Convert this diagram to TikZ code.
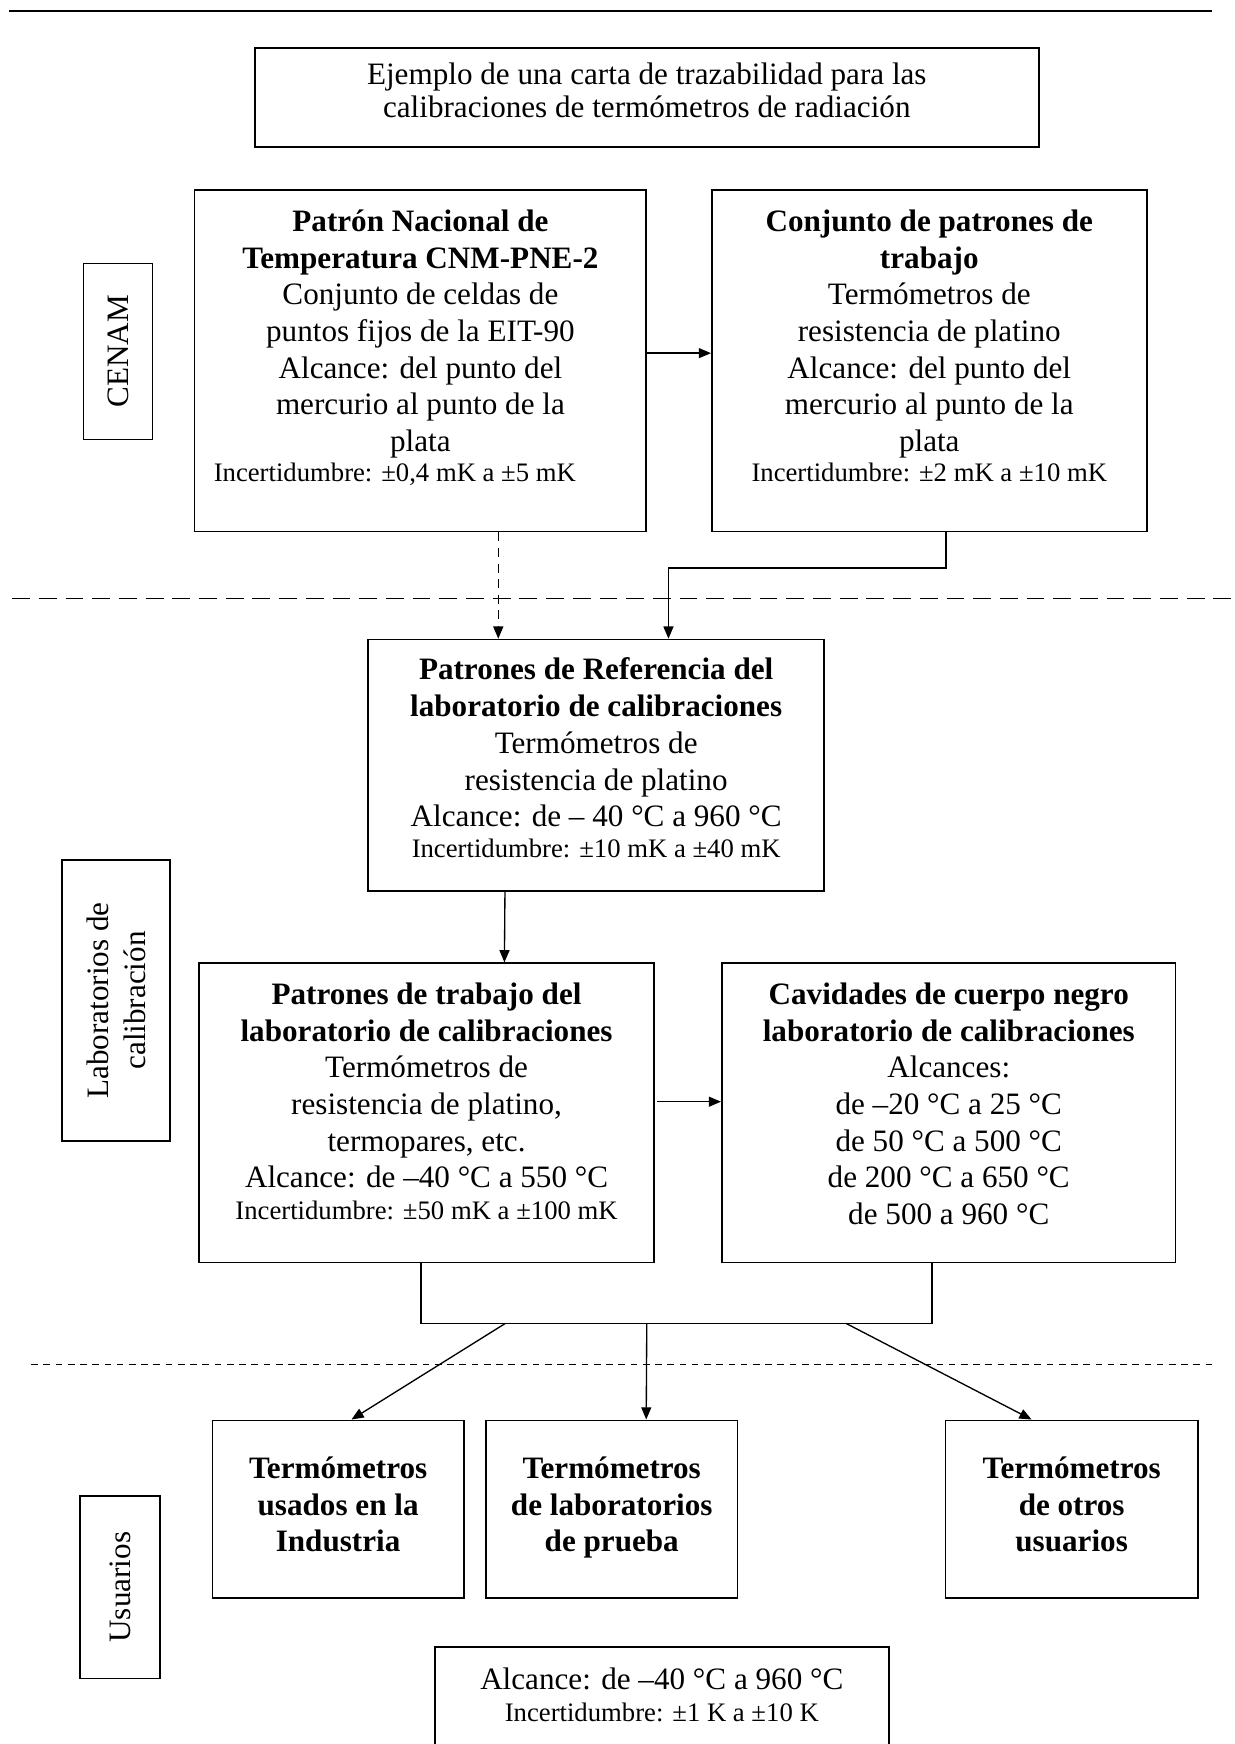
\documentclass[tikz,border=0pt]{standalone}
\usepackage{fontspec}
\setmainfont{Liberation Serif}
\usetikzlibrary{arrows.meta,positioning,fit,calc}

\newcommand{\cuerpo}{\fontsize{14}{16.5}\selectfont}
\newcommand{\chica}{\fontsize{12}{15}\selectfont}

\tikzset{
  caja/.style={draw, line width=0.75pt, inner sep=0pt},
  texto/.style={align=center, inner sep=0pt, font=\cuerpo},
  etiqueta/.style={rotate=90, align=center, inner sep=0pt, font=\cuerpo},
  flecha/.style={line width=0.6pt, -{Triangle[length=5.5pt,width=4.5pt]}},
  discont/.style={dash pattern=on 4pt off 3pt},
  division/.style={line width=0.6pt, dash pattern=on 8pt off 4pt},
  divcorta/.style={line width=0.6pt, dash pattern=on 3pt off 2.5pt},
}

\begin{document}
\begin{tikzpicture}[x=0.5pt, y=-0.5pt]
\useasboundingbox (0,0) rectangle (1110,1568);

\draw[line width=1.2pt] (8,10) -- (1090,10);

% titulo
\node[caja, fit={(229,43) (934,132)}] (titulo) {};
\node[texto, font=\fontsize{14}{15}\selectfont, below=7pt of titulo.north] (ttitulo)
  {Ejemplo de una carta de trazabilidad para las\\calibraciones de termómetros de radiación};

% nivel CENAM
\node[caja, fit={(75,237) (137,395)}] (cenam) {};
\node[etiqueta] (tcenam) at (cenam) {CENAM};

\node[caja, fit={(175,171) (581,478)}] (pnac) {};
\node[texto, below=9pt of pnac.north] (tpnac)
  {\textbf{Patrón Nacional de}\\\textbf{Temperatura CNM-PNE-2}\\Conjunto de celdas de\\puntos fijos de la EIT-90\\Alcance: del punto del\\mercurio al punto de la\\plata\\[-3pt]{\chica Incertidumbre: ±0,4 mK a ±5 mK}\hspace*{23pt}};

\node[caja, fit={(640,171) (1031,478)}] (ctrab) {};
\node[texto, below=9pt of ctrab.north] (tctrab)
  {\textbf{Conjunto de patrones de}\\\textbf{trabajo}\\Termómetros de\\resistencia de platino\\Alcance: del punto del\\mercurio al punto de la\\plata\\[-3pt]{\chica Incertidumbre: ±2 mK a ±10 mK}};

\draw[division] (11,538) -- (1110,538);

% laboratorios
\node[caja, fit={(56,773) (153,1026)}] (labs) {};
\node[etiqueta] (tlabs) at (labs) {Laboratorios de\\calibración};

\node[caja, fit={(331,575) (741,801)}] (pref) {};
\node[texto, below=8.5pt of pref.north] (tpref)
  {\textbf{Patrones de Referencia del}\\\textbf{laboratorio de calibraciones}\\Termómetros de\\resistencia de platino\\Alcance: de – 40 °C a 960 °C\\[-2.5pt]{\chica Incertidumbre: ±10 mK a ±40 mK}};

\node[caja, fit={(179,866) (588,1135)}] (ptrab) {};
\node[texto, below=9pt of ptrab.north] (tptrab)
  {\textbf{Patrones de trabajo del}\\\textbf{laboratorio de calibraciones}\\Termómetros de\\resistencia de platino,\\termopares, etc.\\Alcance: de –40 °C a 550 °C\\[-2.5pt]{\chica Incertidumbre: ±50 mK a ±100 mK}};

\node[caja, fit={(649,866) (1057,1135)}] (cav) {};
\node[texto, below=9pt of cav.north] (tcav)
  {\textbf{Cavidades de cuerpo negro}\\\textbf{laboratorio de calibraciones}\\Alcances:\\de –20 °C a 25 °C\\de 50 °C a 500 °C\\de 200 °C a 650 °C\\de 500 a 960 °C};

\draw[divcorta] (28,1227) -- (1093,1227);

% usuarios
\node[caja, fit={(72,1345) (144,1509)}] (usu) {};
\node[etiqueta] (tusu) at (usu) {Usuarios};

\node[caja, fit={(191,1277) (417,1437)}] (tind) {};
\node[texto, below=16.5pt of tind.north] (ttind)
  {\textbf{Termómetros}\\\textbf{usados en la}\\\textbf{Industria}};

\node[caja, fit={(437,1277) (663,1437)}] (tlab) {};
\node[texto, below=16.5pt of tlab.north] (ttlab)
  {\textbf{Termómetros}\\\textbf{de laboratorios}\\\textbf{de prueba}};

\node[caja, fit={(850,1277) (1077,1437)}] (totr) {};
\node[texto, below=16.5pt of totr.north] (ttotr)
  {\textbf{Termómetros}\\\textbf{de otros}\\\textbf{usuarios}};

\node[caja, fit={(391,1481) (799,1600)}] (alc) {};
\node[texto, below=9.5pt of alc.north] (talc)
  {Alcance: de –40 °C a 960 °C\\[-2pt]{\chica Incertidumbre: ±1 K a ±10 K}};

% conexiones
\draw[flecha] ($(pnac.east)+(0,-7)$) -- ($(pnac.east -| ctrab.west)+(0,-7)$);
\draw[flecha, discont] ($(pnac.south)+(70,0)$) -- ($(pref.north)+(-88,0)$);
\draw[flecha] ($(ctrab.south)+(15,0)$) -- ++(0,32) -| ($(pref.north)+(65,0)$);
\draw[flecha] ($(pref.south)+(-82,0)$) -- ($(ptrab.north)+(70,0)$);
\draw[flecha] ($(ptrab.east)+(2,-10)$) -- ($(cav.west)+(0,-10)$);

\draw[line width=0.6pt] ($(ptrab.south)+(-5,0)$) -- ++(0,54) coordinate (k1) -| ($(cav.south)+(-15,0)$);
\draw[flecha] ($(k1)+(76,0)$) -- ($(tind.north)+(12,0)$);
\draw[flecha] ($(k1)+(203,0)$) -- ($(tlab.north)+(31,0)$);
\draw[flecha] ($(k1)+(382,0)$) -- ($(totr.north)+(-36,0)$);

\end{tikzpicture}
\end{document}
